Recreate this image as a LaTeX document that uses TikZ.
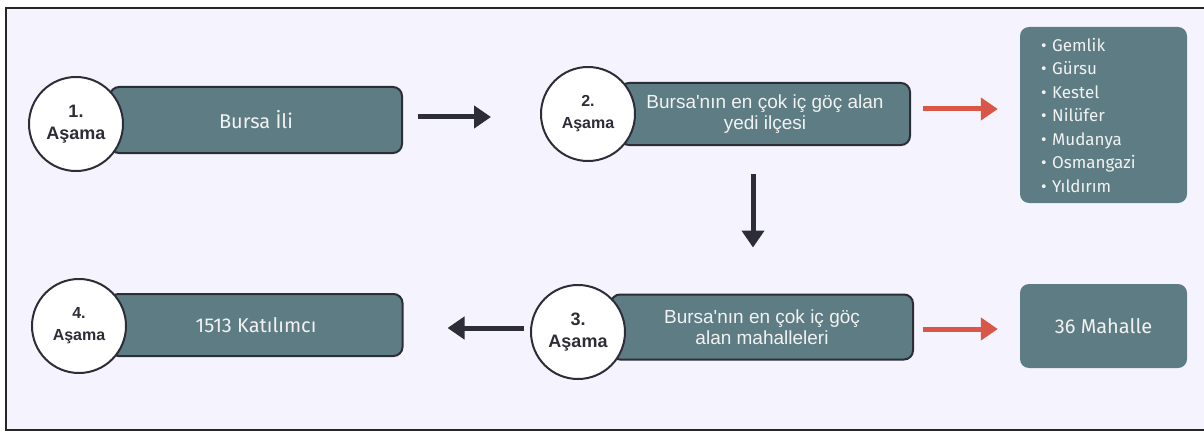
\documentclass[tikz,border=0pt]{standalone}
\usepackage{fontspec}
\setmainfont{Fira Sans}
\newfontfamily\arialfont{Liberation Sans}
\usetikzlibrary{arrows.meta}
\definecolor{pagebg}{HTML}{F5F3FE}
\definecolor{boxfill}{HTML}{5E7C84}
\definecolor{inkdark}{HTML}{2D2D37}
\definecolor{arrowred}{HTML}{D95746}

\begin{document}
\begin{tikzpicture}[x=1pt, y=-1pt,
    stagebox/.style={draw=inkdark, line width=2pt, fill=boxfill, rounded corners=9pt,
      text=white!95!black, inner sep=0pt, align=center},
    stepcircle/.style={circle, draw=inkdark, line width=2pt, fill=white, minimum size=94pt,
      inner sep=0pt, align=center, text=inkdark},
    infobox/.style={fill=boxfill, rounded corners=9pt, text=white!95!black},
    darkarrow/.style={inkdark, line width=5pt, -{Triangle[length=17pt,width=22pt]}},
    redarrow/.style={arrowred, line width=5pt, -{Triangle[length=17pt,width=22pt]}}]

    % frame
    \useasboundingbox (0,0) rectangle (1204,433);
    \fill[white] (0,0) rectangle (1204,433);
    \fill[pagebg] (6,8) rectangle (1204,430);
    \draw[line width=2.5pt, black!85] (1204,8) -- (6,8) -- (6,430) -- (1204,430);

    % stage boxes
    \node[stagebox, minimum width=292pt, minimum height=66pt, font=\fontsize{20}{24}\selectfont] (b1) at (256,120) {Bursa İli};
    \node[stagebox, minimum width=290pt, minimum height=62pt, font=\arialfont\fontsize{19}{21}\selectfont] (b2) at (765,114) {Bursa'nın en çok iç göç alan\\yedi ilçesi};
    \node[stagebox, minimum width=302pt, minimum height=65pt, font=\arialfont\fontsize{19}{21}\selectfont] (b3) at (762,327) {Bursa'nın en çok iç göç\\alan mahalleleri};
    \node[stagebox, minimum width=293pt, minimum height=62pt, font=\fontsize{20}{24}\selectfont] (b4) at (256,325) {1513 Katılımcı};

    % stage circles
    \node[stepcircle, font=\arialfont\bfseries\fontsize{18}{22}\selectfont] (c1) at (76,124) {1.\\Aşama};
    \node[stepcircle, font=\arialfont\bfseries\fontsize{16}{22}\selectfont] (c2) at (588,114) {2.\\Aşama};
    \node[stepcircle, font=\arialfont\bfseries\fontsize{18}{22}\selectfont] (c3) at (578,332) {3.\\Aşama};
    \node[stepcircle, font=\arialfont\bfseries\fontsize{16}{22}\selectfont] (c4) at (79,326) {4.\\Aşama};

    % side boxes
    \node[infobox, text width=125pt, inner xsep=21pt, minimum height=176pt, align=left,
      font=\fontsize{17}{23.5}\selectfont] (ilce) at (1103.5,115)
      {• Gemlik\\• Gürsu\\• Kestel\\• Nilüfer\\• Mudanya\\• Osmangazi\\• Yıldırım};
    \node[infobox, minimum width=167pt, minimum height=84pt, inner sep=0pt,
      font=\fontsize{20}{24}\selectfont] (mah) at (1103.5,326) {36 Mahalle};

    % arrows
    \draw[darkarrow, shorten <=15pt, shorten >=49pt] ([yshift=3pt]b1.east) -- ([yshift=3pt]c2.west |- b1.east);
    \draw[redarrow, shorten <=12pt, shorten >=22pt] ([yshift=5pt]b2.east) -- ([yshift=5pt]ilce.west |- b2.east);
    \draw[darkarrow, shorten <=28pt, shorten >=46pt] ([xshift=-12pt]b2.south) -- ([xshift=-12pt]b2.south |- b3.north);
    \draw[darkarrow, shorten <=6pt, shorten >=44pt] ([yshift=4pt]c3.west) -- ([yshift=4pt]c3.west -| b4.east);
    \draw[redarrow, shorten <=9pt, shorten >=22pt] ([yshift=-2pt]b3.east) -- ([yshift=-2pt]mah.west |- b3.east);

\end{tikzpicture}
\end{document}
